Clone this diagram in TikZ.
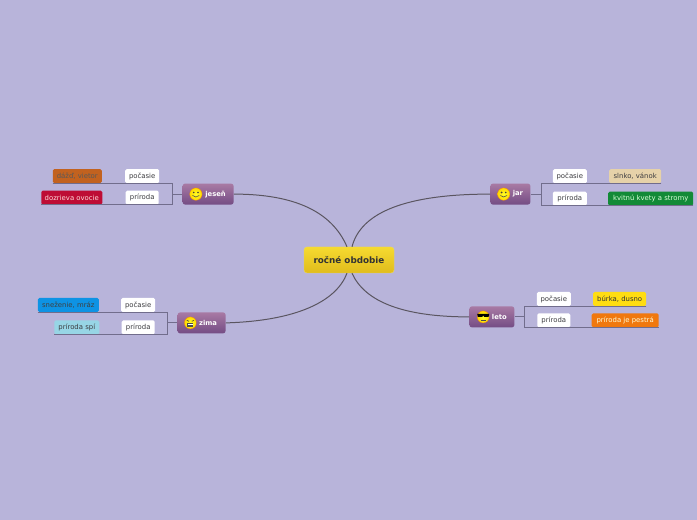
\documentclass[tikz,border=0pt]{standalone}
\usepackage{fontspec}
\usepackage{xcolor}
\setmainfont{DejaVu Sans}
\usetikzlibrary{positioning, calc}
\definecolor{paper}{HTML}{B8B4DA}
\definecolor{twigcol}{HTML}{716D8C}
\definecolor{limbcol}{HTML}{5A5560}
\definecolor{inkcol}{HTML}{3C3C40}
\definecolor{rootedge}{HTML}{F0DC50}
\definecolor{roottop}{HTML}{F6DA30}
\definecolor{rootbot}{HTML}{E0BC1C}
\definecolor{branchtop}{HTML}{A87AA4}
\definecolor{branchbot}{HTML}{744C84}
\definecolor{rainleaf}{HTML}{C2621F}
\definecolor{fruitleaf}{HTML}{BE0C35}
\definecolor{snowleaf}{HTML}{0E93E4}
\definecolor{sleepleaf}{HTML}{97D5E5}
\definecolor{sunleaf}{HTML}{E6D2A9}
\definecolor{bloomleaf}{HTML}{128A37}
\definecolor{stormleaf}{HTML}{FFDD12}
\definecolor{brightleaf}{HTML}{F0780E}

\begin{document}
\begin{tikzpicture}[
  x=1pt, y=1pt,
  root/.style={rectangle, draw=rootedge, rounded corners=3pt,
               top color=roottop, bottom color=rootbot,
               minimum width=90pt, minimum height=26pt, inner sep=0pt,
               font=\fontsize{8.8}{10}\selectfont\bfseries, text=black!80},
  branch/.style={rectangle, rounded corners=2.5pt, top color=branchtop,
               bottom color=branchbot, minimum height=21pt, inner sep=0pt,
               font=\fontsize{6.8}{8}\selectfont\bfseries, text=white},
  leaf/.style={rectangle, rounded corners=1.5pt, fill=#1, minimum height=14pt, inner sep=0pt,
               font=\fontsize{6.9}{8}\selectfont, text=inkcol},
  leaf/.default=white,
  limb/.style={limbcol, line width=1pt},
  twig/.style={twigcol, line width=0.9pt},
  face/.style={draw=orange!70!brown, line width=0.3pt, inner color=yellow!85!white, outer color=yellow!70!orange},
  eye/.style={fill=black!75}
]
\tikzset{
  pics/smiley/.style={code={
    \path[face] (0,0) circle (6.2);
    \fill[eye] (-2.1,1.6) circle (0.9) (2.1,1.6) circle (0.9);
    \draw[black!70, line width=0.6pt] (-3.3,-1.4) .. controls (-1.5,-3.4) and (1.5,-3.4) .. (3.3,-1.4);
  }},
  pics/cool/.style={code={
    \path[face] (0,0) circle (6);
    \fill[black] (-6,3) -- (6,3) -- (5.4,0) -- (1,0) -- (0,1.6) -- (-1,0) -- (-5.4,0) -- cycle;
    \draw[black!70, line width=0.5pt] (-2.3,-3) -- (2.3,-3);
  }},
  pics/tired/.style={code={
    \path[face] (0,0) circle (6);
    \draw[black!75, line width=0.6pt] (-3.6,2.6) -- (-1.4,1.6) (3.6,2.6) -- (1.4,1.6);
    \fill[black!70] (-3,-3.8) rectangle (3,-0.4);
    \fill[white] (-2.4,-1.9) rectangle (2.4,-0.9);
  }}
}

\path[use as bounding box, fill=paper] (0,0) rectangle (697,520);

% Centre
\node[root] (root) at (349,260) {ročné obdobie};

% Branches round the centre
\node[branch, minimum width=51pt, above left=42pt and 70pt of root]  (jesen) {\hspace*{15pt}jeseň};
\node[branch, minimum width=40pt, above right=42pt and 96pt of root] (jar)   {\hspace*{15pt}jar};
\node[branch, minimum width=45pt, below right=33pt and 75pt of root] (leto)  {\hspace*{15pt}leto};
\node[branch, minimum width=48pt, below left=39pt and 78pt of root]  (zima)  {\hspace*{13pt}zima};

% Faces on the branches
\pic at ($(jesen.west)+(13.5,0)$) {smiley};
\pic at ($(jar.west)+(13.5,0)$)   {smiley};
\pic at ($(leto.west)+(14,0)$)    {cool};
\pic at ($(zima.west)+(13,0)$)    {tired};

% jeseň leaves
\node[leaf, minimum width=34pt, above left=0pt and 23pt of jesen] (jpoc) {počasie};
\node[leaf, minimum width=33pt, below=7pt of jpoc]                (jpri) {príroda};
\node[leaf=rainleaf, minimum width=49pt, left=23pt of jpoc, text=black!65] (jdaz) {dážď, vietor};
\node[leaf=fruitleaf, minimum width=61pt, left=23pt of jpri, text=red!15]  (jdoz) {dozrieva ovocie};

% zima leaves
\node[leaf, minimum width=34pt, above left=0pt and 22pt of zima] (zpoc) {počasie};
\node[leaf, minimum width=33pt, below=8pt of zpoc]               (zpri) {príroda};
\node[leaf=snowleaf, minimum width=61pt, left=22pt of zpoc, text=black!75] (zsne) {sneženie, mráz};
\node[leaf=sleepleaf, minimum width=45pt, left=22pt of zpri]               (zspi) {príroda spí};

% jar leaves
\node[leaf, minimum width=34pt, above right=0pt and 22pt of jar] (apoc) {počasie};
\node[leaf, minimum width=34pt, below=8pt of apoc]               (apri) {príroda};
\node[leaf=sunleaf, minimum width=52pt, right=22pt of apoc]      (aslk) {slnko, vánok};
\node[leaf=bloomleaf, minimum width=85pt, right=21pt of apri, text=white!85!green] (akvi) {kvitnú kvety a stromy};

% leto leaves
\node[leaf, minimum width=34pt, above right=0pt and 22pt of leto] (lpoc) {počasie};
\node[leaf, minimum width=33pt, below=7pt of lpoc]                (lpri) {príroda};
\node[leaf=stormleaf, minimum width=53pt, right=22pt of lpoc, text=black!80] (lbur) {búrka, dusno};
\node[leaf=brightleaf, minimum width=67pt, right=21pt of lpri, text=white!85!yellow] (lpes) {príroda je pestrá};

% Curves from the centre
\coordinate (rootnw) at ($(root.north)+(-2,0)$);
\coordinate (rootne) at ($(root.north)+(3,0)$);
\coordinate (rootsw) at ($(root.south)+(-2,0)$);
\coordinate (rootse) at ($(root.south)+(3,0)$);

\draw[limb] (jesen.east) .. controls +(61,0) and +(-15,35) .. (rootnw);
\draw[limb] (jar.west)   .. controls +(-83,0) and +(9,35) .. (rootne);
\draw[limb] (zima.east)  .. controls +(69,2) and +(-11,-29) .. (rootsw);
\draw[limb] (leto.west)  .. controls +(-65,0) and +(13,-29) .. (rootse);

% Brackets under the leaves
\coordinate (jbr) at ($(jesen.west)+(-10,0)$);
\coordinate (zbr) at ($(zima.west)+(-10,0)$);
\coordinate (abr) at ($(jar.east)+(11,0)$);
\coordinate (lbr) at ($(leto.east)+(10,0)$);

\draw[twig] (jesen.west) -- (jbr);
\draw[twig] (jdaz.south west) -| (jbr);
\draw[twig] (jdoz.south west) -| (jbr);

\draw[twig] (zima.west) -- (zbr);
\draw[twig] (zsne.south west) -| (zbr);
\draw[twig] (zspi.south west) -| (zbr);

\draw[twig] (jar.east) -- (abr);
\draw[twig] (aslk.south east) -| (abr);
\draw[twig] (akvi.south east) -| (abr);

\draw[twig] (leto.east) -- (lbr);
\draw[twig] (lbur.south east) -| (lbr);
\draw[twig] (lpes.south east) -| (lbr);

\end{tikzpicture}
\end{document}
